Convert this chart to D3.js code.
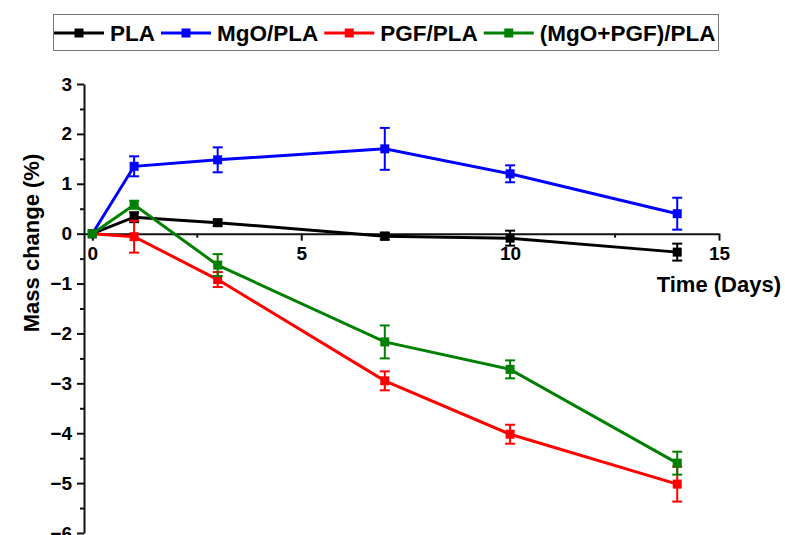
<!DOCTYPE html>
<html>
<head>
<meta charset="utf-8">
<script src="https://cdn.jsdelivr.net/npm/d3@7"></script>
<style>
  body { margin: 0; background: #fff; }
  svg { font-family: "Liberation Sans", Arial, sans-serif; font-weight: bold; }
</style>
</head>
<body>
<div id="container"></div>
<script>
// sampling days
const days = [0, 1, 3, 7, 10, 14];

// mean mass change (%) and error (±) per sample
const plaMean = [0, 0.33, 0.22, -0.05, -0.09, -0.37];
const plaErr = [0, 0.10, 0.06, 0.07, 0.15, 0.17];
const mgoMean = [0, 1.35, 1.48, 1.70, 1.20, 0.40];
const mgoErr = [0, 0.20, 0.25, 0.42, 0.17, 0.32];
const pgfMean = [0, -0.06, -0.92, -2.95, -4.02, -5.02];
const pgfErr = [0, 0.32, 0.15, 0.19, 0.19, 0.35];
const mixMean = [0, 0.58, -0.63, -2.17, -2.72, -4.60];
const mixErr = [0, 0.08, 0.22, 0.33, 0.18, 0.23];

const seriesNames = ["PLA", "MgO/PLA", "PGF/PLA", "(MgO+PGF)/PLA"];
const seriesColors = ["#000000", "#0000ff", "#ff0000", "#008000"];

const xMajorTicks = [0, 5, 10, 15];
const xMinorTicks = [2.5, 7.5, 12.5];
const yMajorTicks = [3, 2, 1, 0, -1, -2, -3, -4, -5, -6];
const yMinorTicks = [2.5, 1.5, 0.5, -0.5, -1.5, -2.5, -3.5, -4.5, -5.5];

const series = [
    {name: seriesNames[0], color: seriesColors[0], mean: plaMean, err: plaErr},
    {name: seriesNames[1], color: seriesColors[1], mean: mgoMean, err: mgoErr},
    {name: seriesNames[2], color: seriesColors[2], mean: pgfMean, err: pgfErr},
    {name: seriesNames[3], color: seriesColors[3], mean: mixMean, err: mixErr}
];

const width = 785, height = 535;

const svg = d3.select("#container")
    .append("svg")
    .attr("width", width)
    .attr("height", height);

const x = d3.scaleLinear().domain([-0.2, 15]).range([84, 719]);
const y = d3.scaleLinear().domain([-6, 3]).range([533, 84]);

// X axis, sits on y = 0
const xAxis = svg.append("g")
    .attr("transform", "translate(0," + y(0) + ")");
xAxis.call(d3.axisBottom(x).tickValues(xMinorTicks).tickSize(4).tickSizeOuter(0).tickFormat(""));
xAxis.append("g")
    .call(d3.axisBottom(x).tickValues(xMajorTicks).tickSize(7).tickSizeOuter(0).tickPadding(6).tickFormat(d3.format("d")))
    .call(g => g.select(".domain").remove());

// Y axis
const yAxis = svg.append("g")
    .attr("transform", "translate(" + x.range()[0] + ",0)");
yAxis.call(d3.axisLeft(y).tickValues(yMinorTicks).tickSize(4).tickSizeOuter(0).tickFormat(""));
yAxis.append("g")
    .call(d3.axisLeft(y).tickValues(yMajorTicks).tickSize(7).tickSizeOuter(0).tickPadding(5).tickFormat(d3.format("d")))
    .call(g => g.select(".domain").remove());

svg.selectAll(".domain, .tick line")
    .attr("stroke", "#111")
    .attr("stroke-width", 2);
svg.selectAll(".tick text")
    .attr("fill", "#000")
    .style("font-size", "19px")
    .style("font-family", "'Liberation Sans', Arial, sans-serif")
    .style("font-weight", "bold");

// axis titles
svg.append("text")
    .attr("transform", "translate(31," + 243 + ")rotate(-90)")
    .attr("text-anchor", "middle")
    .attr("dy", "0.35em")
    .style("font-size", "22px")
    .text("Mass change (%)");

svg.append("text")
    .attr("x", 781)
    .attr("y", 292)
    .attr("text-anchor", "end")
    .style("font-size", "22px")
    .text("Time (Days)");

// series
const line = d3.line()
    .x(d => x(d.day))
    .y(d => y(d.v));

series.forEach(s => {
    const pts = days.map((day, i) => ({day: day, v: s.mean[i], e: s.err[i]}));
    const g = svg.append("g");

    g.append("path")
        .datum(pts)
        .attr("fill", "none")
        .attr("stroke", s.color)
        .attr("stroke-width", 3)
        .attr("d", line);

    const eb = g.selectAll(".err")
        .data(pts.filter(d => d.e > 0))
        .enter()
        .append("g")
        .attr("stroke", s.color)
        .attr("stroke-width", 2);
    eb.append("line")
        .attr("x1", d => x(d.day)).attr("x2", d => x(d.day))
        .attr("y1", d => y(d.v - d.e)).attr("y2", d => y(d.v + d.e));
    eb.append("line")
        .attr("x1", d => x(d.day) - 5).attr("x2", d => x(d.day) + 5)
        .attr("y1", d => y(d.v + d.e)).attr("y2", d => y(d.v + d.e));
    eb.append("line")
        .attr("x1", d => x(d.day) - 5).attr("x2", d => x(d.day) + 5)
        .attr("y1", d => y(d.v - d.e)).attr("y2", d => y(d.v - d.e));

    g.selectAll("rect")
        .data(pts)
        .enter()
        .append("rect")
        .attr("x", d => x(d.day) - 4.5)
        .attr("y", d => y(d.v) - 4.5)
        .attr("width", 9)
        .attr("height", 9)
        .attr("fill", s.color);
});

// legend
const legend = svg.append("g");
legend.append("rect")
    .attr("x", 53.5)
    .attr("y", 14.5)
    .attr("width", 665)
    .attr("height", 36)
    .attr("fill", "#fff")
    .attr("stroke", "#777")
    .attr("stroke-width", 1);

let lx = 54;
const ly = 33;
series.forEach(s => {
    legend.append("line")
        .attr("x1", lx).attr("x2", lx + 50)
        .attr("y1", ly).attr("y2", ly)
        .attr("stroke", s.color)
        .attr("stroke-width", 3);
    legend.append("rect")
        .attr("x", lx + 25 - 4.5)
        .attr("y", ly - 4.5)
        .attr("width", 9)
        .attr("height", 9)
        .attr("fill", s.color);
    const t = legend.append("text")
        .attr("x", lx + 56)
        .attr("y", ly)
        .attr("dy", "0.36em")
        .style("font-size", "22.5px")
        .text(s.name);
    lx += 56 + t.node().getComputedTextLength() + 6;
});
</script>
</body>
</html>
